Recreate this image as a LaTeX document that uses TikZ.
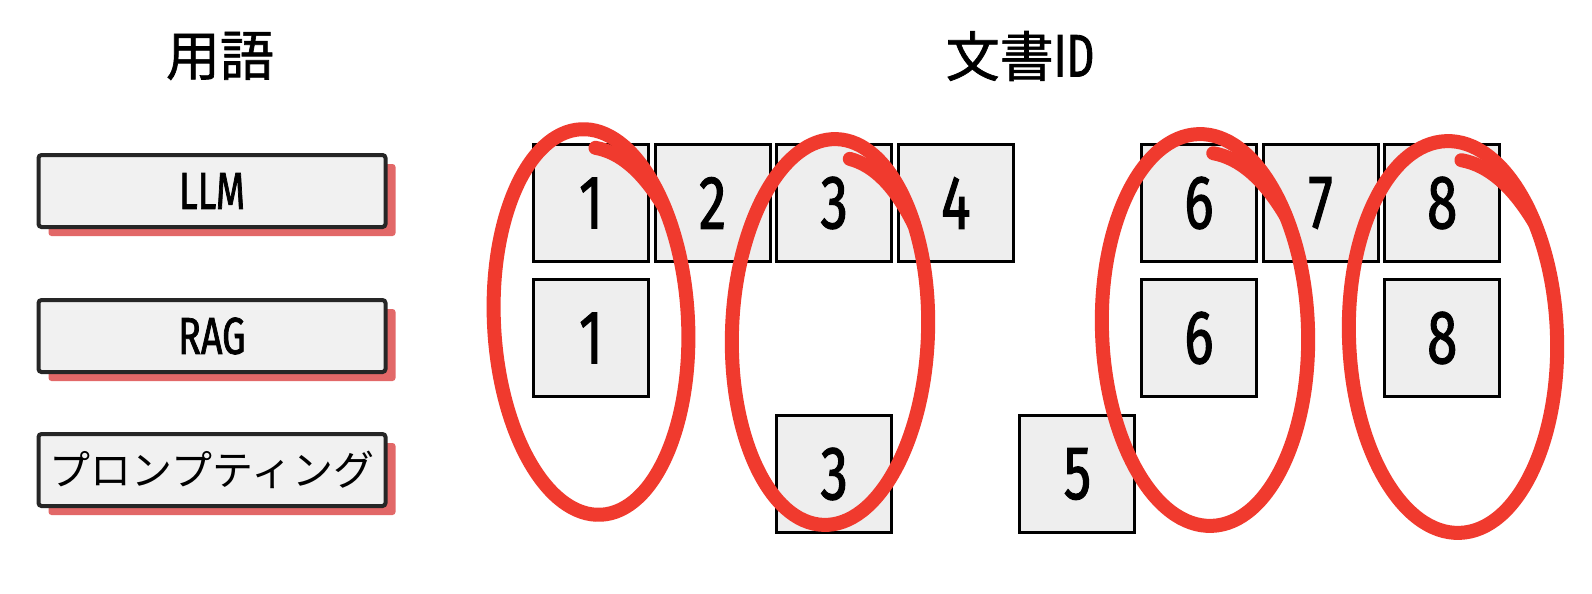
\documentclass[tikz,border=0pt]{standalone}
\usepackage{fontspec}
\usepackage{tikz}
\usetikzlibrary{shadows}
\setmainfont{Noto Sans CJK JP}
\newfontfamily\jpfont{Noto Sans CJK JP}
\newfontfamily\headfont[FakeBold=1.2]{Noto Sans CJK JP}
\newfontfamily\numfont[FakeStretch=0.72,FakeBold=1.4]{Fira Sans}
\definecolor{boxgray}{RGB}{238,238,238}
\definecolor{termgray}{RGB}{241,241,241}
\definecolor{loopred}{RGB}{240,58,46}
\definecolor{shadowred}{RGB}{226,104,104}
\tikzset{
  idbox/.style={draw=black, line width=1.5pt, fill=boxgray, minimum width=57.5pt, minimum height=58.5pt, inner sep=0pt, font=\numfont\fontsize{38}{38}\selectfont},
  termbox/.style={draw=black!85, line width=2pt, fill=termgray, rounded corners=1.5pt, minimum width=173.5pt, minimum height=36pt, inner sep=0pt,
    drop shadow={shadow xshift=5pt, shadow yshift=-4.5pt, fill=shadowred, opacity=1}},
  termlatin/.style={font=\numfont\fontsize{26}{26}\selectfont},
  heading/.style={font=\headfont\fontsize{27}{27}\selectfont, inner sep=0pt},
  loopline/.style={draw=loopred, line width=7pt, line cap=round}
}
\newcommand\docloop[5]{%
  \begin{scope}[shift={(#1,#2)}, rotate=#3]
    \draw[loopline] (0,0) ellipse [x radius=#4, y radius=#5];
    \draw[loopline] ({0.14*#4},{-0.9*#5}) .. controls ({0.4*#4},{-0.87*#5}) and ({0.62*#4},{-0.76*#5}) .. ({0.82*#4},{-0.57*#5});
  \end{scope}}
\begin{document}
\begin{tikzpicture}[x=0.5pt,y=-0.5pt]
                \fill[white] (0,0) rectangle (1592,594);
                \useasboundingbox (0,0) rectangle (1592,594);
                \node[heading] (termtitle) at (220,56) {用語};
                \node[heading] (doctitle) at (1020,56) {文書{\numfont\fontsize{30}{30}\selectfont ID}};
                \node[termbox, termlatin] (llm) at (212,191) {LLM};
                \node[termbox, termlatin] (rag) at (212,336) {RAG};
                \node[termbox, font=\jpfont\fontsize{20.5}{20.5}\selectfont] (prompt) at (212,470) {プロンプティング};
                \foreach \c in {1,2,3,4,6,7,8}
                  \node[idbox] (llm-\c) at ({591+121.6*(\c-1)},203) {\c};
                \foreach \c in {1,6,8}
                  \node[idbox] (rag-\c) at ({591+121.6*(\c-1)},338) {\c};
                \foreach \c in {3,5}
                  \node[idbox] (prompt-\c) at ({591+121.6*(\c-1)},474) {\c};
                \docloop{591}{322}{3}{97}{193}
                \docloop{830}{332}{-2}{98}{193}
                \docloop{1205}{330}{2}{103}{196}
                \docloop{1453}{337}{2}{104}{196}
            \end{tikzpicture}
\end{document}
